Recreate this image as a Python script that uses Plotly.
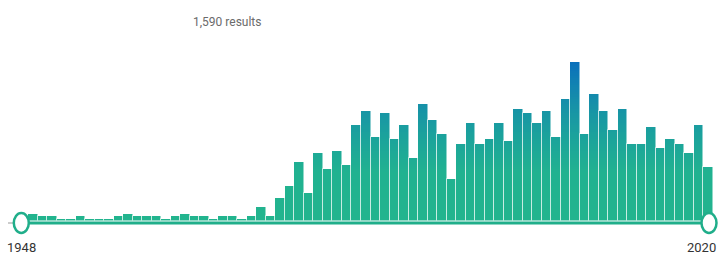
import numpy as np
import plotly.graph_objects as go
from plotly.colors import sample_colorscale

# ---- data ----
years = list(range(1948, 2020))
counts = [3, 2, 2, 1, 1, 2, 1, 1, 1, 2, 3, 2, 2, 2, 1, 2, 3, 2, 2, 1, 2, 2, 1, 2,
          6, 2, 10, 15, 25, 12, 29, 22, 30, 24,
          41, 47, 36, 46, 35, 41, 27, 50, 43, 37,
          18, 33, 42, 33, 35, 42, 34, 48, 46, 42,
          47, 36, 52, 68, 37, 54, 47, 39, 48, 33,
          33, 40, 31, 35, 33, 29, 41, 23]
range_labels = ["1948", "2020"]
title_text = "1,590 results"

# ---- style ----
vmax = max(counts)
gradient = [[0.0, "#22b48e"], [0.3, "#21b290"], [0.5, "#1ca59a"],
            [0.7, "#1794a6"], [0.85, "#1283b1"], [1.0, "#0a6fbc"]]

fig = go.Figure()
vals = np.array(counts, dtype=float)
# vertical gradient: layered bars, highest band first, lower bands on top
for k in range(vmax, 0, -1):
    color = sample_colorscale(gradient, [(k - 0.5) / vmax])[0]
    y = np.where(vals > k - 1, np.minimum(vals, k), np.nan)
    fig.add_trace(go.Bar(x=years, y=y, marker=dict(color=color, line=dict(width=0)),
                         hoverinfo="skip", showlegend=False))
# light outlines
fig.add_trace(go.Bar(x=years, y=counts,
                     marker=dict(color="rgba(0,0,0,0)",
                                 line=dict(color="rgba(255,255,255,0.5)", width=1)),
                     showlegend=False))

W, H = 718, 255
ml, mr, mt, mb = 28, 5, 11, 34
pw = W - ml - mr
ph = H - mt - mb

def px2paper_x(px):
    return (px - ml) / pw

left_c = px2paper_x(21.3)
right_c = px2paper_x(709)
green = "#20ae8a"

shapes = [
    dict(type="line", xref="paper", yref="paper", x0=px2paper_x(8), x1=px2paper_x(14),
         ysizemode="pixel", yanchor=0, y0=-2, y1=-2, line=dict(color="#cccccc", width=2)),
    dict(type="line", xref="paper", yref="paper", x0=left_c, x1=right_c,
         ysizemode="pixel", yanchor=0, y0=-2, y1=-2, line=dict(color=green, width=3)),
]
for c in (left_c, right_c):
    shapes.append(dict(type="circle", xref="paper", yref="paper",
                       xsizemode="pixel", xanchor=c, x0=-7.5, x1=7.5,
                       ysizemode="pixel", yanchor=0, y0=-12, y1=8,
                       fillcolor="white", line=dict(color=green, width=2.5)))

font_fam = "Liberation Sans Narrow, Roboto, sans-serif"
annotations = [
    dict(text=title_text, xref="paper", yref="paper", x=px2paper_x(227), y=(221 - 22) / ph,
         xanchor="center", yanchor="middle", showarrow=False,
         font=dict(family=font_fam, size=12, color="#6b6b6b")),
    dict(text=range_labels[0], xref="paper", yref="paper", x=left_c, y=(221 - 247) / ph,
         xanchor="center", yanchor="middle", showarrow=False,
         font=dict(family=font_fam, size=13, color="#333333")),
    dict(text=range_labels[1], xref="paper", yref="paper", x=px2paper_x(718), y=(221 - 247) / ph,
         xanchor="right", yanchor="middle", showarrow=False,
         font=dict(family=font_fam, size=13, color="#333333")),
]

fig.update_layout(
    width=W, height=H,
    margin=dict(l=ml, r=mr, t=mt, b=mb, pad=0),
    barmode="overlay", bargap=0,
    paper_bgcolor="white", plot_bgcolor="white",
    xaxis=dict(range=[1947.5, 2019.5], visible=False, fixedrange=True),
    yaxis=dict(range=[0, ph / 2.343], visible=False, fixedrange=True),
    shapes=shapes, annotations=annotations,
    showlegend=False,
)
fig.write_html("out.html", config={"displayModeBar": False},
               post_script="document.body.style.margin='0';document.body.style.overflow='hidden';")
